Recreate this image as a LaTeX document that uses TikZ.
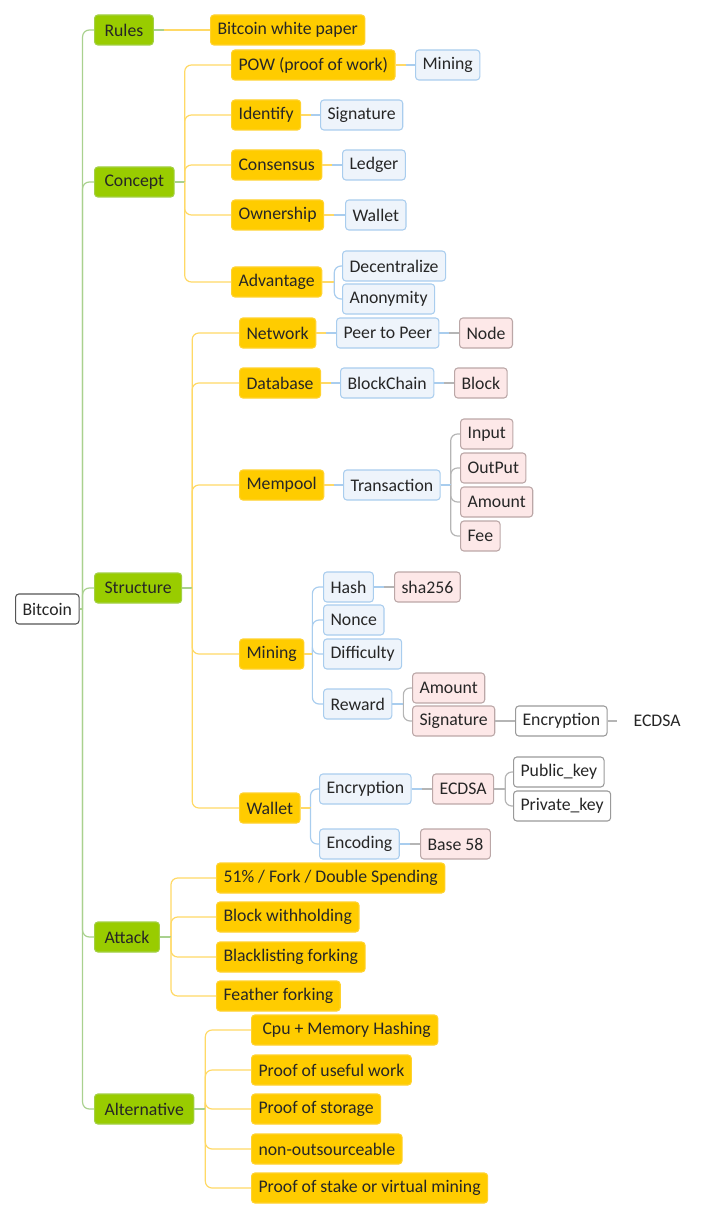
\documentclass[tikz,border=0pt]{standalone}
\usepackage{fontspec}
\setmainfont{Carlito}
\usetikzlibrary{calc}
\definecolor{txt}{HTML}{262626}
\definecolor{gfill}{HTML}{99CC00}
\definecolor{gdraw}{HTML}{A3D044}
\definecolor{ofill}{HTML}{FFCC00}
\definecolor{odraw}{HTML}{FFD22E}
\definecolor{bfill}{HTML}{EEF4FB}
\definecolor{bdraw}{HTML}{A9CDEE}
\definecolor{pfill}{HTML}{FDE8E8}
\definecolor{pdraw}{HTML}{BBA7A7}
\definecolor{wdraw}{HTML}{9A9A9A}
\definecolor{rdraw}{HTML}{555555}
\definecolor{lgreen}{HTML}{A9D18E}
\definecolor{lyellow}{HTML}{FFD966}
\definecolor{lblue}{HTML}{A9CDEE}
\definecolor{lgray}{HTML}{B5B5B5}
\tikzset{
  topic/.style={rounded corners=2.5pt, minimum height=22.5pt, inner xsep=5.25pt,
    inner ysep=0pt, anchor=west, text=txt, font=\fontsize{13.3}{15}\selectfont, line width=0.8pt},
  rootbox/.style={topic, fill=white, draw=rdraw},
  greenbox/.style={topic, fill=gfill, draw=gdraw, inner xsep=7.5pt},
  orangebox/.style={topic, fill=ofill, draw=odraw},
  bluebox/.style={topic, fill=bfill, draw=bdraw},
  pinkbox/.style={topic, fill=pfill, draw=pdraw},
  whitebox/.style={topic, fill=white, draw=wdraw},
  plainbox/.style={topic, inner xsep=12pt},
  link/.style={line width=0.9pt}
}
% \conn{parent}{child}{parent line colour}{child line colour}{stub length}
\newcommand{\conn}[5]{%
  \draw[link,#3] (#1.east) -- ($(#1.east)+(#5,0)$);
  \draw[link,#4,rounded corners=5pt] ($(#1.east)+(#5,0)$) |- (#2.west);}
% \straight: same as \conn, for a single child on the parent's line
\newcommand{\straight}[5]{%
  \draw[link,#3] (#1.east) -- ($(#1.east)+(#5,0)$);
  \draw[link,#4] ($(#1.east)+(#5,0)$) -- (#2.west |- #1.east);}
\begin{document}
\begin{tikzpicture}[x=0.75pt,y=-0.75pt]
\useasboundingbox (0,0) rectangle (703,1219);
% root and main branches
\node[rootbox] (root) at (15,609) {Bitcoin};
\node[greenbox] (rules) at (94,30) {Rules};
\node[greenbox] (concept) at (94,182) {Concept};
\node[greenbox] (structure) at (94,588) {Structure};
\node[greenbox] (attack) at (94,937) {Attack};
\node[greenbox] (alternative) at (94,1109) {Alternative};
% Rules
\node[orangebox] (paper) at (210,30) {Bitcoin white paper};
% Concept
\node[orangebox] (pow) at (231,65) {POW (proof of work)};
\node[orangebox] (identify) at (231,115) {Identify};
\node[orangebox] (consensus) at (231,165) {Consensus};
\node[orangebox] (ownership) at (231,215) {Ownership};
\node[orangebox] (advantage) at (231,282) {Advantage};
\node[bluebox] (cmining) at (415,65) {Mining};
\node[bluebox] (csig) at (320,115) {Signature};
\node[bluebox] (ledger) at (342,165) {Ledger};
\node[bluebox] (cwallet) at (345,215) {Wallet};
\node[bluebox] (decent) at (342,266) {Decentralize};
\node[bluebox] (anon) at (342,299) {Anonymity};
% Structure
\node[orangebox] (network) at (239,333) {Network};
\node[orangebox] (database) at (239,383) {Database};
\node[orangebox] (mempool) at (239,485) {Mempool};
\node[orangebox] (smining) at (239,654) {Mining};
\node[orangebox] (swallet) at (239,808) {Wallet};
\node[bluebox] (p2p) at (336,333) {Peer to Peer};
\node[bluebox] (chain) at (340,383) {BlockChain};
\node[bluebox] (tx) at (343,485) {Transaction};
\node[pinkbox] (pnode) at (459,333) {Node};
\node[pinkbox] (block) at (454,383) {Block};
\node[pinkbox] (input) at (460,434) {Input};
\node[pinkbox] (output) at (460,468) {OutPut};
\node[pinkbox] (amount) at (460,502) {Amount};
\node[pinkbox] (fee) at (460,536) {Fee};
\node[bluebox] (hash) at (323,587) {Hash};
\node[bluebox] (nonce) at (323,620) {Nonce};
\node[bluebox] (diff) at (323,654) {Difficulty};
\node[bluebox] (reward) at (323,704) {Reward};
\node[pinkbox] (sha) at (394,587) {sha256};
\node[pinkbox] (ramount) at (412,688) {Amount};
\node[pinkbox] (rsig) at (412,721) {Signature};
\node[whitebox] (renc) at (515,721) {Encryption};
\node[plainbox] (recdsa) at (617,721) {ECDSA};
\node[bluebox] (wenc) at (319,789) {Encryption};
\node[bluebox] (wcode) at (319,844) {Encoding};
\node[pinkbox] (wecdsa) at (432,789) {ECDSA};
\node[pinkbox] (base) at (420,844) {Base 58};
\node[whitebox] (pub) at (513,772) {Public\_key};
\node[whitebox] (priv) at (513,806) {Private\_key};
% Attack
\node[orangebox] (at1) at (216,878) {51\% / Fork / Double Spending};
\node[orangebox] (at2) at (216,917) {Block withholding};
\node[orangebox] (at3) at (216,957) {Blacklisting forking};
\node[orangebox] (at4) at (216,996) {Feather forking};
% Alternative
\node[orangebox] (al1) at (251,1030) {\hspace{3pt}Cpu + Memory Hashing};
\node[orangebox] (al2) at (251,1070) {Proof of useful work};
\node[orangebox] (al3) at (251,1109) {Proof of storage};
\node[orangebox] (al4) at (251,1149) {non-outsourceable};
\node[orangebox] (al5) at (251,1188) {Proof of stake or virtual mining};
% connectors
\foreach \c in {rules,concept,structure,attack,alternative}
  {\conn{root}{\c}{lgreen}{lgreen}{3}}
\straight{rules}{paper}{lgreen}{lyellow}{10}
\foreach \c in {pow,identify,consensus,ownership,advantage}
  {\conn{concept}{\c}{lgreen}{lyellow}{10}}
\straight{pow}{cmining}{lyellow}{lblue}{10}
\straight{identify}{csig}{lyellow}{lblue}{10}
\straight{consensus}{ledger}{lyellow}{lblue}{10}
\straight{ownership}{cwallet}{lyellow}{lblue}{10}
\conn{advantage}{decent}{lyellow}{lblue}{12}
\conn{advantage}{anon}{lyellow}{lblue}{12}
\foreach \c in {network,database,mempool,smining,swallet}
  {\conn{structure}{\c}{lgreen}{lyellow}{10}}
\straight{network}{p2p}{lyellow}{lblue}{10}
\straight{database}{chain}{lyellow}{lblue}{10}
\straight{mempool}{tx}{lyellow}{lblue}{10}
\straight{p2p}{pnode}{lblue}{lgray}{10}
\straight{chain}{block}{lblue}{lgray}{10}
\foreach \c in {input,output,amount,fee}
  {\conn{tx}{\c}{lblue}{lgray}{10}}
\foreach \c in {hash,nonce,diff,reward}
  {\conn{smining}{\c}{lyellow}{lblue}{8}}
\straight{hash}{sha}{lblue}{lgray}{10}
\conn{reward}{ramount}{lblue}{lgray}{11}
\conn{reward}{rsig}{lblue}{lgray}{11}
\straight{rsig}{renc}{lgray}{lgray}{10}
\draw[link,lgray] (renc.east) -- (recdsa.west);
\conn{swallet}{wenc}{lyellow}{lblue}{10}
\conn{swallet}{wcode}{lyellow}{lblue}{10}
\straight{wenc}{wecdsa}{lblue}{lgray}{10}
\straight{wcode}{base}{lblue}{lgray}{10}
\conn{wecdsa}{pub}{lgray}{lgray}{11}
\conn{wecdsa}{priv}{lgray}{lgray}{11}
\foreach \c in {at1,at2,at3,at4}
  {\conn{attack}{\c}{lgreen}{lyellow}{11}}
\foreach \c in {al1,al2,al3,al4,al5}
  {\conn{alternative}{\c}{lgreen}{lyellow}{11}}
\end{tikzpicture}
\end{document}
